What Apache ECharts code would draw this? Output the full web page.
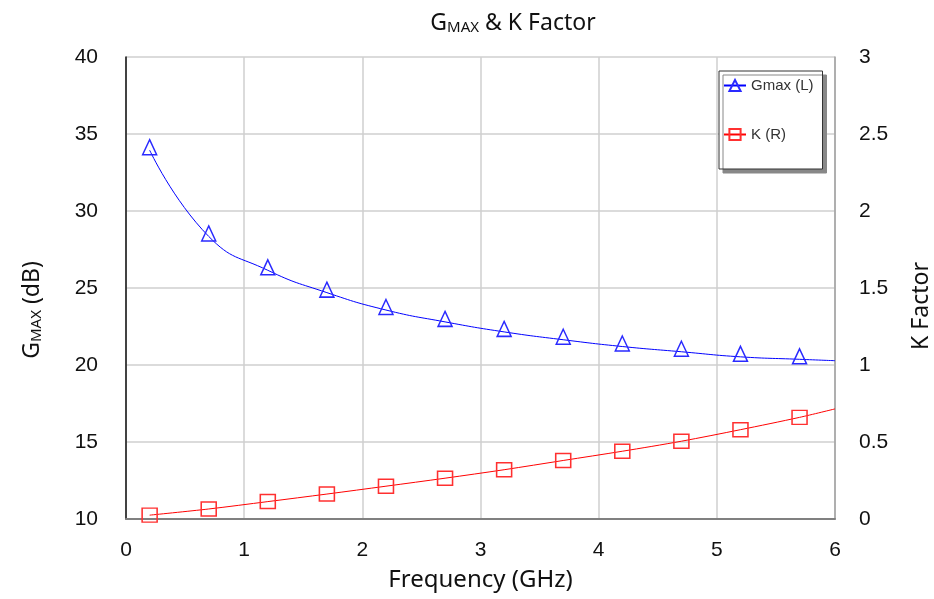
<!DOCTYPE html>
<html><head><meta charset="utf-8">
<script src="https://cdn.jsdelivr.net/npm/echarts@6/dist/echarts.min.js"></script>
<style>html,body{margin:0;padding:0;background:#fff}#c{width:934px;height:599px}</style>
</head><body><div id="c"></div>
<script>
const freq = [0.2, 0.7, 1.2, 1.7, 2.2, 2.7, 3.2, 3.7, 4.2, 4.7, 5.2, 5.7, 6.0];
const gmax = [33.95, 28.35, 26.15, 24.7, 23.57, 22.8, 22.15, 21.64, 21.2, 20.86, 20.53, 20.37, 20.28];
const kfac = [0.025, 0.065, 0.113, 0.162, 0.213, 0.265, 0.32, 0.38, 0.44, 0.505, 0.58, 0.66, 0.715];
const xTicks = [0, 1, 2, 3, 4, 5, 6];
const leftTicks = [10, 15, 20, 25, 30, 35, 40];
const rightTicks = [0, 0.5, 1, 1.5, 2, 2.5, 3];

const FONT = 'Noto Sans';
const TICKFONT = 'Liberation Sans';
function pts(vals) {
  return freq.map((f, i) => {
    const d = { value: [f, vals[i]] };
    if (i === freq.length - 1) d.symbol = 'none';
    return d;
  });
}
const chart = echarts.init(document.getElementById('c'));
chart.setOption({
  animation: false,
  textStyle: { fontFamily: FONT },
  title: {
    text: '{a|G}{s|MAX}{a| & K Factor}',
    left: 508, top: -2, textAlign: 'center',
    textStyle: {
      rich: {
        a: { fontFamily: FONT, fontSize: 23, fontWeight: 'normal', color: '#111', verticalAlign: 'bottom', lineHeight: 32 },
        s: { fontFamily: FONT, fontSize: 15, fontWeight: 'normal', color: '#111', verticalAlign: 'bottom', lineHeight: 26 }
      }
    }
  },
  grid: { left: 126, right: 99, top: 57, bottom: 80, containLabel: false, outerBoundsMode: 'none' },
  legend: {
    orient: 'vertical', left: 719, top: 71,
    padding: [7, 9, 27, 4], itemGap: 34, itemWidth: 22, itemHeight: 14,
    backgroundColor: '#fff', borderColor: '#333', borderWidth: 1,
    shadowColor: '#888', shadowBlur: 0, shadowOffsetX: 4, shadowOffsetY: 4,
    textStyle: { fontFamily: 'Liberation Sans', fontSize: 15, color: '#333' },
    data: ['Gmax (L)', 'K (R)']
  },
  xAxis: {
    type: 'value', min: 0, max: 6, interval: 1,
    name: 'Frequency (GHz)', nameLocation: 'middle', nameGap: 49,
    nameTextStyle: { fontFamily: FONT, fontSize: 24, color: '#111' },
    axisLine: { show: true, lineStyle: { color: '#808080', width: 2 } },
    axisTick: { show: false },
    axisLabel: { fontFamily: TICKFONT, fontSize: 21, color: '#111', margin: 21,
      formatter: v => xTicks.includes(v) ? String(v) : '' },
    splitLine: { show: true, lineStyle: { color: '#cfcfcf', width: 1.5 } }
  },
  yAxis: [
    {
      type: 'value', min: 10, max: 40, interval: 5, position: 'left',
      name: '{a|G}{s|MAX}{a| (dB)}', nameLocation: 'middle', nameGap: 82, nameRotate: 90,
      nameTextStyle: { padding: [0, 44, 0, 0], rich: {
        a: { fontFamily: FONT, fontSize: 23, color: '#111', verticalAlign: 'bottom', lineHeight: 32 },
        s: { fontFamily: FONT, fontSize: 15, color: '#111', verticalAlign: 'bottom', lineHeight: 25 }
      } },
      axisLine: { show: true, lineStyle: { color: '#111', width: 1.5 } },
      axisTick: { show: false },
      axisLabel: { fontFamily: TICKFONT, fontSize: 21, color: '#111', margin: 28,
        formatter: v => leftTicks.includes(v) ? String(v) : '' },
      splitLine: { show: true, lineStyle: { color: '#cfcfcf', width: 1.5 } }
    },
    {
      type: 'value', min: 0, max: 3, interval: 0.5, position: 'right',
      name: 'K Factor', nameLocation: 'middle', nameGap: 75, nameRotate: 90,
      nameTextStyle: { fontFamily: FONT, fontSize: 23, color: '#111', padding: [0, 36, 0, 0] },
      axisLine: { show: true, lineStyle: { color: '#a0a0a0', width: 1.5 } },
      axisTick: { show: false },
      axisLabel: { fontFamily: TICKFONT, fontSize: 21, color: '#111', margin: 24,
        formatter: v => rightTicks.includes(v) ? String(v) : '' },
      splitLine: { show: false }
    }
  ],
  series: [
    {
      name: 'Gmax (L)', type: 'line', yAxisIndex: 0, smooth: 0.5,
      data: pts(gmax),
      symbol: 'triangle', symbolSize: [14, 15], symbolOffset: [0, -3],
      lineStyle: { color: '#0000ff', width: 1 },
      itemStyle: { color: 'rgba(255,255,255,0)', borderColor: '#2a2aff', borderWidth: 1.5 }
    },
    {
      name: 'K (R)', type: 'line', yAxisIndex: 1, smooth: 0.3,
      data: pts(kfac),
      symbol: 'rect', symbolSize: [15, 14],
      lineStyle: { color: '#ff0000', width: 1 },
      itemStyle: { color: 'rgba(255,255,255,0)', borderColor: '#ff3030', borderWidth: 1.5 }
    }
  ]
});
</script></body></html>
